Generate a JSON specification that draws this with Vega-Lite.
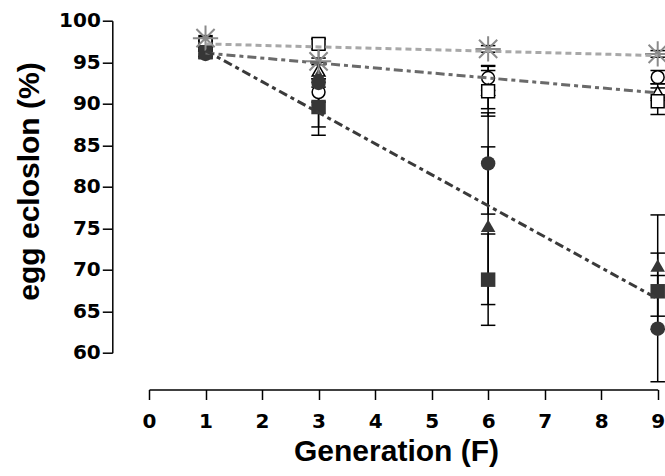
{
  "$schema": "https://vega.github.io/schema/vega-lite/v6.json",
  "width": 508.7,
  "height": 332,
  "autosize": "none",
  "padding": {"left": 149, "top": 20.7, "right": 7.3, "bottom": 123.3},
  "background": "white",
  "config": {
    "view": {"stroke": null},
    "font": "Liberation Sans",
    "axis": {
      "grid": false,
      "domainColor": "black",
      "domainWidth": 1.5,
      "tickColor": "black",
      "tickWidth": 1.5,
      "tickSize": 10,
      "labelFont": "DejaVu Sans",
      "labelFontSize": 20,
      "labelFontWeight": "bold",
      "labelColor": "black",
      "titleFont": "Liberation Sans",
      "titleFontSize": 30,
      "titleFontWeight": "bold",
      "titleColor": "black"
    },
    "axisX": {"offset": 36.8, "labelPadding": 12, "titleX": 247, "titleY": 70.5, "titleBaseline": "alphabetic", "tickCount": 9, "labelFlush": false},
    "axisY": {"offset": 36.7, "labelPadding": 2, "titleX": -73.6, "titleY": 160.3, "titleBaseline": "alphabetic", "tickCount": 8, "titleFontSize": 30}
  },
  "datasets": {
    "points": [
      {"gen": 1, "group": "C0", "mean": 97.9, "lo": 97.6, "hi": 98.2},
      {"gen": 1, "group": "C1", "mean": 97.0, "lo": 96.4, "hi": 97.6},
      {"gen": 1, "group": "C2", "mean": 97.0, "lo": 96.5, "hi": 97.5},
      {"gen": 1, "group": "C3", "mean": 97.3, "lo": 96.8, "hi": 97.8},
      {"gen": 1, "group": "T1", "mean": 96.0, "lo": 95.5, "hi": 96.5},
      {"gen": 1, "group": "T2", "mean": 96.3, "lo": 95.7, "hi": 96.9},
      {"gen": 1, "group": "T3", "mean": 96.2, "lo": 95.7, "hi": 96.7},
      {"gen": 3, "group": "C0", "mean": 95.1, "lo": 94.7, "hi": 95.5},
      {"gen": 3, "group": "C1", "mean": 91.4, "lo": 90.2, "hi": 92.6},
      {"gen": 3, "group": "C2", "mean": 94.0, "lo": 93.0, "hi": 95.0},
      {"gen": 3, "group": "C3", "mean": 97.2, "lo": 96.6, "hi": 97.8},
      {"gen": 3, "group": "T1", "mean": 92.5, "lo": 87.2, "hi": 97.8},
      {"gen": 3, "group": "T2", "mean": 93.5, "lo": 92.0, "hi": 95.0},
      {"gen": 3, "group": "T3", "mean": 89.6, "lo": 86.2, "hi": 93.0},
      {"gen": 6, "group": "C0", "mean": 96.6, "lo": 96.2, "hi": 97.0},
      {"gen": 6, "group": "C1", "mean": 93.1, "lo": 91.6, "hi": 94.6},
      {"gen": 6, "group": "C2", "mean": 91.7, "lo": 89.4, "hi": 94.0},
      {"gen": 6, "group": "C3", "mean": 91.5, "lo": 88.5, "hi": 94.5},
      {"gen": 6, "group": "T1", "mean": 82.8, "lo": 76.7, "hi": 88.9},
      {"gen": 6, "group": "T2", "mean": 75.3, "lo": 65.8, "hi": 84.8},
      {"gen": 6, "group": "T3", "mean": 68.8, "lo": 63.3, "hi": 74.3},
      {"gen": 9, "group": "C0", "mean": 96.0, "lo": 95.6, "hi": 96.4},
      {"gen": 9, "group": "C1", "mean": 93.2, "lo": 92.4, "hi": 94.0},
      {"gen": 9, "group": "C2", "mean": 91.4, "lo": 90.4, "hi": 92.4},
      {"gen": 9, "group": "C3", "mean": 90.3, "lo": 88.7, "hi": 91.9},
      {"gen": 9, "group": "T1", "mean": 62.9, "lo": 56.5, "hi": 69.3},
      {"gen": 9, "group": "T2", "mean": 70.5, "lo": 64.4, "hi": 76.6},
      {"gen": 9, "group": "T3", "mean": 67.4, "lo": 62.8, "hi": 72.0}
    ],
    "lines": [
      {"line": "control", "gen": 1, "mean": 97.2},
      {"line": "control", "gen": 9, "mean": 95.8},
      {"line": "open", "gen": 1, "mean": 96.1},
      {"line": "open", "gen": 9, "mean": 91.3},
      {"line": "filled", "gen": 1, "mean": 96.4},
      {"line": "filled", "gen": 9, "mean": 66.5}
    ]
  },
  "layer": [
    {
      "data": {"name": "points"},
      "mark": {"type": "rule", "color": "black", "strokeWidth": 1.5, "clip": false},
      "encoding": {
        "x": {"field": "gen", "type": "quantitative", "title": "Generation (F)", "scale": {"domain": [0, 9], "nice": false, "zero": false}},
        "y": {"field": "lo", "type": "quantitative", "title": "egg ecloslon (%)", "scale": {"domain": [60, 100], "nice": false, "zero": false}},
        "y2": {"field": "hi"}
      }
    },
    {
      "data": {"name": "points"},
      "mark": {"type": "point", "shape": "M-1,0L1,0", "stroke": "black", "strokeWidth": 1.5, "filled": false, "opacity": 1, "size": 210, "clip": false},
      "encoding": {
        "x": {"field": "gen", "type": "quantitative", "title": "Generation (F)"},
        "y": {"field": "lo", "type": "quantitative", "title": "egg ecloslon (%)"}
      }
    },
    {
      "data": {"name": "points"},
      "mark": {"type": "point", "shape": "M-1,0L1,0", "stroke": "black", "strokeWidth": 1.5, "filled": false, "opacity": 1, "size": 210, "clip": false},
      "encoding": {
        "x": {"field": "gen", "type": "quantitative", "title": "Generation (F)"},
        "y": {"field": "hi", "type": "quantitative", "title": "egg ecloslon (%)"}
      }
    },
    {
      "data": {"name": "points"},
      "transform": [{"filter": {"field": "group", "oneOf": ["C1", "C2", "C3"]}}],
      "mark": {"type": "point", "filled": true, "fill": "white", "stroke": "black", "strokeWidth": 1.5, "opacity": 1, "size": 165, "clip": false},
      "encoding": {
        "x": {"field": "gen", "type": "quantitative", "title": "Generation (F)"},
        "y": {"field": "mean", "type": "quantitative", "title": "egg ecloslon (%)"},
        "shape": {"field": "group", "type": "nominal", "scale": {"domain": ["C1", "C2", "C3", "T1", "T2", "T3"], "range": ["circle", "triangle-up", "square", "circle", "triangle-up", "square"]}, "legend": null}
      }
    },
    {
      "data": {"name": "points"},
      "transform": [{"filter": {"field": "group", "oneOf": ["T1", "T2", "T3"]}}],
      "mark": {"type": "point", "filled": true, "fill": "#363636", "strokeWidth": 0, "opacity": 1, "size": 210, "clip": false},
      "encoding": {
        "x": {"field": "gen", "type": "quantitative", "title": "Generation (F)"},
        "y": {"field": "mean", "type": "quantitative", "title": "egg ecloslon (%)"},
        "shape": {"field": "group", "type": "nominal", "legend": null}
      }
    },
    {
      "data": {"name": "points"},
      "transform": [{"filter": {"field": "group", "equal": "C0"}}],
      "mark": {"type": "point", "shape": "M-1,0L1,0M0,-1L0,1M-0.72,-0.72L0.72,0.72M-0.72,0.72L0.72,-0.72", "filled": false, "stroke": "#8a8a8a", "strokeWidth": 2, "opacity": 1, "size": 640, "clip": false},
      "encoding": {
        "x": {"field": "gen", "type": "quantitative", "title": "Generation (F)"},
        "y": {"field": "mean", "type": "quantitative", "title": "egg ecloslon (%)"}
      }
    },
    {
      "data": {"name": "lines"},
      "mark": {"type": "line", "strokeWidth": 3, "clip": false},
      "encoding": {
        "x": {"field": "gen", "type": "quantitative", "title": "Generation (F)"},
        "y": {"field": "mean", "type": "quantitative", "title": "egg ecloslon (%)"},
        "detail": {"field": "line", "type": "nominal"},
        "color": {"field": "line", "type": "nominal", "scale": {"domain": ["control", "open", "filled"], "range": ["#a8a8a8", "#6a6a6a", "#3a3a3a"]}, "legend": null},
        "strokeDash": {"field": "line", "type": "nominal", "scale": {"domain": ["control", "open", "filled"], "range": [[6, 4], [9, 4, 4, 4], [9, 4, 4, 4]]}, "legend": null}
      }
    }
  ]
}
